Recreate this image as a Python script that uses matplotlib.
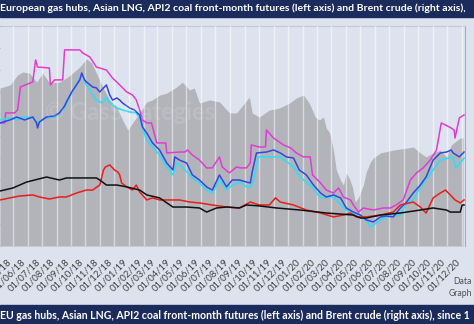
import pandas as pd
import matplotlib.pyplot as plt
import matplotlib.dates as mdates
from matplotlib.patches import Rectangle

plt.rcParams['font.family'] = ['Lato', 'DejaVu Sans']

# Brent crude front-month, $/bbl (right axis)
brent_dates = ["2018-04-04", "2018-04-25", "2018-05-11", "2018-05-22", "2018-06-05", "2018-06-20",
               "2018-07-03", "2018-07-17", "2018-08-07", "2018-08-22", "2018-09-04", "2018-09-19",
               "2018-10-03", "2018-10-14", "2018-10-24", "2018-11-06", "2018-11-21", "2018-12-06",
               "2018-12-18", "2018-12-29", "2019-01-08", "2019-01-23", "2019-02-07", "2019-02-19",
               "2019-03-06", "2019-03-21", "2019-04-11", "2019-04-23", "2019-05-08", "2019-05-18",
               "2019-05-29", "2019-06-19", "2019-07-10", "2019-07-31", "2019-08-15", "2019-09-11",
               "2019-09-17", "2019-10-02", "2019-10-23", "2019-11-13", "2019-12-05", "2019-12-19",
               "2020-01-03", "2020-01-15", "2020-01-28", "2020-02-05", "2020-02-14", "2020-02-20",
               "2020-02-27", "2020-03-06", "2020-03-12", "2020-03-21", "2020-03-27", "2020-04-02",
               "2020-04-08", "2020-04-15", "2020-04-21", "2020-04-28", "2020-05-02", "2020-05-08",
               "2020-05-14", "2020-05-23", "2020-05-29", "2020-06-13", "2020-07-10", "2020-08-07",
               "2020-08-21", "2020-09-05", "2020-09-17", "2020-10-02", "2020-10-17", "2020-10-30",
               "2020-11-09", "2020-11-17", "2020-11-28", "2020-12-04"]
brent = [71.8, 73.2, 77.7, 79.1, 78.6, 74.5,
         78.6, 74.1, 74.5, 76.4, 78.6, 81.4,
         85.0, 83.2, 78.6, 72.3, 66.4, 63.2,
         57.3, 52.7, 55.9, 60.5, 65.5, 66.4,
         68.6, 69.5, 72.3, 74.5, 70.9, 71.8,
         65.0, 66.4, 65.5, 60.5, 60.5, 67.7,
         60.5, 58.6, 61.8, 62.7, 65.0, 67.3,
         68.6, 65.0, 58.6, 57.3, 58.6, 53.6,
         51.4, 43.6, 34.5, 30.0, 27.7, 33.2,
         30.9, 26.8, 20.0, 22.3, 24.5, 27.7,
         33.6, 38.2, 40.0, 42.3, 43.6, 44.5,
         45.0, 42.3, 40.5, 42.3, 43.6, 40.5,
         45.9, 47.3, 49.1, 49.1]

# Asian LNG (JKM), $/MMBtu (left axis)
jkm_dates = ["2018-04-04", "2018-04-14", "2018-04-16", "2018-05-05", "2018-05-11", "2018-05-17",
             "2018-06-12", "2018-06-18", "2018-06-22", "2018-07-17", "2018-07-19", "2018-07-28",
             "2018-08-14", "2018-08-18", "2018-09-19", "2018-09-25", "2018-10-10", "2018-10-24",
             "2018-11-14", "2018-11-27", "2018-12-12", "2018-12-27", "2019-01-08", "2019-01-16",
             "2019-01-23", "2019-01-29", "2019-02-07", "2019-02-17", "2019-02-28", "2019-03-19",
             "2019-03-21", "2019-04-17", "2019-04-28", "2019-05-04", "2019-05-14", "2019-05-29",
             "2019-06-13", "2019-06-25", "2019-07-10", "2019-07-16", "2019-07-31", "2019-08-15",
             "2019-08-23", "2019-09-05", "2019-09-13", "2019-09-15", "2019-10-02", "2019-10-15",
             "2019-10-17", "2019-11-01", "2019-11-22", "2019-12-07", "2019-12-19", "2020-01-03",
             "2020-01-17", "2020-01-22", "2020-02-08", "2020-02-20", "2020-03-06", "2020-03-17",
             "2020-03-27", "2020-04-11", "2020-04-17", "2020-04-28", "2020-05-08", "2020-05-29",
             "2020-06-19", "2020-07-04", "2020-07-16", "2020-07-31", "2020-08-15", "2020-08-28",
             "2020-09-11", "2020-09-26", "2020-10-09", "2020-10-19", "2020-10-28", "2020-11-09",
             "2020-11-15", "2020-11-17", "2020-11-26", "2020-12-06"]
jkm = [7.83, 7.83, 8.47, 8.47, 8.66, 10.12,
       10.44, 11.84, 11.39, 11.33, 10.25, 10.57,
       10.57, 12.48, 12.48, 12.29, 12.03, 11.39,
       11.20, 10.69, 10.25, 9.80, 9.61, 9.29,
       8.66, 8.02, 7.83, 7.83, 6.56, 6.56,
       5.92, 5.98, 5.98, 6.11, 5.79, 5.47,
       4.97, 4.97, 5.67, 5.03, 4.65, 5.03,
       4.97, 4.97, 5.28, 6.43, 6.30, 6.30,
       7.38, 6.87, 6.43, 6.24, 5.92, 5.67,
       5.67, 4.52, 4.01, 3.56, 3.37, 3.69,
       3.12, 2.93, 2.61, 2.16, 2.42, 2.29,
       2.42, 2.42, 2.61, 2.93, 4.20, 4.65,
       4.97, 5.47, 6.11, 7.83, 7.70, 7.51,
       7.38, 6.87, 8.15, 8.34]

# TTF front-month, $/MMBtu
ttf_dates = ["2018-04-04", "2018-04-25", "2018-05-09", "2018-05-26", "2018-06-12", "2018-06-20",
             "2018-06-22", "2018-06-26", "2018-07-11", "2018-07-28", "2018-08-07", "2018-08-18",
             "2018-08-22", "2018-09-02", "2018-09-12", "2018-09-19", "2018-09-23", "2018-09-29",
             "2018-10-03", "2018-10-16", "2018-10-24", "2018-10-31", "2018-11-08", "2018-11-14",
             "2018-11-21", "2018-11-27", "2018-12-06", "2018-12-12", "2018-12-18", "2018-12-27",
             "2019-01-02", "2019-01-12", "2019-01-16", "2019-01-23", "2019-01-29", "2019-02-07",
             "2019-02-19", "2019-03-06", "2019-03-21", "2019-04-03", "2019-04-07", "2019-04-17",
             "2019-05-02", "2019-05-14", "2019-05-29", "2019-06-13", "2019-06-25", "2019-07-10",
             "2019-07-25", "2019-08-06", "2019-08-21", "2019-09-05", "2019-09-13", "2019-09-17",
             "2019-09-26", "2019-10-17", "2019-11-01", "2019-11-15", "2019-11-28", "2019-12-13",
             "2019-12-25", "2020-01-09", "2020-01-24", "2020-02-08", "2020-02-20", "2020-03-06",
             "2020-03-21", "2020-04-02", "2020-04-17", "2020-05-02", "2020-05-14", "2020-05-29",
             "2020-06-13", "2020-06-25", "2020-07-10", "2020-07-25", "2020-08-07", "2020-08-21",
             "2020-09-05", "2020-09-17", "2020-10-02", "2020-10-17", "2020-10-30", "2020-11-09",
             "2020-11-13", "2020-11-26", "2020-12-06"]
ttf = [7.83, 8.02, 8.21, 8.02, 8.21, 7.83,
       7.51, 7.89, 8.21, 8.28, 8.47, 8.91,
       9.17, 9.80, 10.25, 10.57, 11.01, 10.57,
       10.44, 10.12, 10.06, 9.80, 10.06, 10.25,
       9.61, 9.29, 9.42, 9.29, 9.10, 8.91,
       8.78, 8.66, 8.53, 8.34, 7.57, 7.19,
       6.56, 6.11, 5.28, 4.84, 5.67, 5.47,
       5.28, 4.52, 4.20, 3.76, 3.56, 4.52,
       3.76, 4.20, 4.20, 4.07, 4.01, 4.71,
       5.92, 5.98, 6.11, 5.92, 5.67, 5.60,
       4.84, 4.52, 3.88, 3.37, 3.12, 3.25,
       3.06, 2.42, 2.16, 1.97, 1.66, 1.53,
       1.85, 1.91, 1.85, 2.42, 2.80, 3.37,
       3.88, 4.39, 5.47, 5.92, 5.98, 6.11,
       5.92, 5.67, 5.98]

# NBP front-month, $/MMBtu
nbp_dates = ["2018-04-04", "2018-04-25", "2018-05-09", "2018-05-26", "2018-06-12", "2018-06-22",
             "2018-07-07", "2018-07-28", "2018-08-07", "2018-08-18", "2018-08-28", "2018-09-08",
             "2018-09-19", "2018-09-25", "2018-10-03", "2018-10-16", "2018-10-24", "2018-11-06",
             "2018-11-14", "2018-11-21", "2018-12-06", "2018-12-18", "2019-01-02", "2019-01-16",
             "2019-01-23", "2019-01-29", "2019-02-07", "2019-02-19", "2019-03-06", "2019-03-21",
             "2019-04-03", "2019-04-11", "2019-04-23", "2019-05-14", "2019-05-29", "2019-06-13",
             "2019-06-25", "2019-07-10", "2019-07-25", "2019-08-06", "2019-08-23", "2019-09-05",
             "2019-09-13", "2019-09-19", "2019-09-30", "2019-10-17", "2019-11-15", "2019-12-13",
             "2019-12-27", "2020-01-23", "2020-02-08", "2020-03-06", "2020-04-02", "2020-04-21",
             "2020-05-14", "2020-05-23", "2020-06-04", "2020-06-25", "2020-07-25", "2020-08-07",
             "2020-08-21", "2020-09-05", "2020-10-02", "2020-10-17", "2020-11-13", "2020-11-19",
             "2020-11-28", "2020-12-06"]
nbp = [8.02, 8.15, 8.02, 8.21, 8.15, 7.83,
       8.15, 8.21, 8.47, 8.78, 9.48, 10.06,
       10.69, 10.88, 10.25, 9.61, 9.29, 9.10,
       9.48, 9.10, 8.78, 8.66, 8.53, 8.47,
       8.15, 7.51, 6.75, 6.30, 5.79, 5.03,
       4.52, 5.28, 5.03, 4.33, 4.01, 3.56,
       3.37, 4.20, 3.56, 3.88, 4.07, 3.76,
       3.76, 4.07, 5.67, 5.67, 5.67, 5.03,
       4.39, 3.69, 3.06, 3.12, 2.29, 1.97,
       1.66, 1.21, 1.46, 1.85, 1.97, 2.74,
       2.93, 3.76, 4.84, 5.47, 5.67, 4.97,
       5.28, 5.60]

# Henry Hub front-month, $/MMBtu
hh_dates = ["2018-04-04", "2018-04-25", "2018-05-15", "2018-06-12", "2018-06-26", "2018-07-17",
            "2018-08-07", "2018-08-22", "2018-09-12", "2018-10-03", "2018-10-16", "2018-10-31",
            "2018-11-08", "2018-11-12", "2018-11-21", "2018-11-27", "2018-12-01", "2018-12-08",
            "2018-12-12", "2018-12-16", "2018-12-27", "2019-01-08", "2019-01-16", "2019-01-23",
            "2019-02-07", "2019-02-19", "2019-03-06", "2019-03-21", "2019-04-17", "2019-05-08",
            "2019-05-29", "2019-06-25", "2019-07-25", "2019-08-21", "2019-09-13", "2019-10-02",
            "2019-10-23", "2019-11-05", "2019-11-15", "2019-12-13", "2020-01-09", "2020-02-08",
            "2020-03-06", "2020-03-27", "2020-04-11", "2020-04-23", "2020-05-14", "2020-06-13",
            "2020-07-10", "2020-07-25", "2020-08-21", "2020-09-05", "2020-09-17", "2020-10-02",
            "2020-10-17", "2020-10-28", "2020-11-07", "2020-11-17", "2020-11-28", "2020-12-06"]
hh = [2.93, 3.06, 3.18, 3.25, 3.12, 2.99,
      3.12, 3.12, 3.37, 3.56, 3.56, 3.88,
      4.84, 5.03, 5.16, 4.97, 4.84, 4.71,
      4.52, 4.01, 3.76, 3.56, 3.88, 3.44,
      2.93, 3.06, 2.93, 2.93, 2.93, 2.80,
      2.74, 2.61, 2.48, 2.42, 2.80, 2.61,
      2.61, 3.06, 2.80, 2.61, 2.29, 2.10,
      1.85, 1.97, 2.10, 1.85, 1.85, 1.97,
      2.16, 2.61, 2.80, 2.48, 2.10, 3.06,
      3.37, 3.56, 3.25, 2.93, 2.74, 2.93]

# API2 coal front-month, $/MMBtu
coal_dates = ["2018-04-04", "2018-05-01", "2018-05-30", "2018-07-11", "2018-08-07", "2018-08-22",
              "2018-10-24", "2018-10-31", "2018-11-14", "2018-12-06", "2018-12-27", "2019-01-23",
              "2019-02-07", "2019-03-06", "2019-04-03", "2019-05-02", "2019-05-29", "2019-06-13",
              "2019-07-04", "2019-07-25", "2019-08-21", "2019-09-05", "2019-10-02", "2019-11-07",
              "2019-12-27", "2020-02-20", "2020-04-17", "2020-05-02", "2020-05-14", "2020-06-13",
              "2020-07-25", "2020-09-05", "2020-10-02", "2020-10-30", "2020-11-07", "2020-11-28",
              "2020-12-02", "2020-12-06"]
coal = [3.50, 3.69, 4.07, 4.39, 4.20, 4.33,
        4.33, 4.20, 3.88, 3.88, 3.76, 3.56,
        3.25, 3.06, 2.48, 2.48, 2.42, 2.16,
        2.42, 2.48, 2.42, 2.61, 2.55, 2.42,
        2.29, 2.10, 1.97, 1.78, 1.78, 1.97,
        2.10, 2.29, 2.42, 2.29, 2.16, 2.16,
        2.61, 2.61]

W, H = 474, 324
BG = "#dde3ee"
NAVY = "#1b2c5c"

fig = plt.figure(figsize=(W / 100, H / 100), dpi=100)
fig.patch.set_facecolor(BG)

ax = fig.add_axes([0, 78 / H, 465 / W, 220 / H])
ax.set_facecolor(BG)

# Brent as grey area on the right-hand scale
ax.fill_between(pd.to_datetime(brent_dates), brent, 0, color="#b2b4ba", lw=0, zorder=1)
ax.set_ylim(0, 100)
ax.set_xlim(pd.Timestamp("2018-04-04"), pd.Timestamp("2020-12-08"))
ax.yaxis.tick_right()
ax.set_yticks(range(0, 101, 10))
ax.tick_params(axis="y", length=3, color="#a4acbc", labelright=False)
ax.xaxis.set_major_locator(mdates.MonthLocator())
ax.xaxis.set_major_formatter(mdates.DateFormatter("%d/%m/%y"))
ax.tick_params(axis="x", length=0, pad=8, labelsize=6.8, labelcolor="#404040")
plt.setp(ax.get_xticklabels(), rotation=45, ha="right")
ax.set_axisbelow(False)
ax.grid(axis="x", color="white", alpha=0.5, lw=1)
for side in ["left", "bottom"]:
    ax.spines[side].set_visible(False)
ax.spines["right"].set_color("#a4acbc")
ax.spines["top"].set_color("#c2c9d6")

# gas and coal on the left-hand scale
ax2 = ax.twinx()
ax2.set_ylim(0, 14)
ax2.set_yticks([])
for side in ax2.spines:
    ax2.spines[side].set_visible(False)
ax2.plot(pd.to_datetime(jkm_dates), jkm, color="#e03cd2", lw=1.1)
ax2.plot(pd.to_datetime(nbp_dates), nbp, color="#33dcf2", lw=1.2)
ax2.plot(pd.to_datetime(ttf_dates), ttf, color="#3346e0", lw=1.1)
ax2.plot(pd.to_datetime(hh_dates), hh, color="#ea1c1c", lw=1.1)
ax2.plot(pd.to_datetime(coal_dates), coal, color="#111111", lw=1.1)

# faint watermark
fig.text(45 / W, 1 - 112 / H, "\u00a9 GasStrategies", color="white", alpha=0.12,
         fontsize=17, fontweight="bold", va="center")

# title bars
fig.add_artist(Rectangle((0, 1 - 17 / H), 1, 17 / H, transform=fig.transFigure,
                         color=NAVY, zorder=5))
fig.text(0.5 / W, 1 - 8.5 / H,
         "European gas hubs, Asian LNG, API2 coal front-month futures (left axis) "
         "and Brent crude (right axis),",
         color="white", fontsize=7.55, fontweight="bold", va="center", zorder=6)
fig.add_artist(Rectangle((0, 0), 1, 19 / H, transform=fig.transFigure,
                         color=NAVY, zorder=5))
fig.text(0.5 / W, 9 / H,
         "EU gas hubs, Asian LNG, API2 coal front-month futures (left axis) "
         "and Brent crude (right axis), since 1",
         color="white", fontsize=7.6, fontweight="bold", va="center", zorder=6)

fig.text(472 / W, 1 - 281 / H, "Data", color="#505050", fontsize=6.2, va="center", ha="right")
fig.text(472 / W, 1 - 293 / H, "Graph", color="#505050", fontsize=6.2, va="center", ha="right")

fig.savefig("out.png", dpi=100, facecolor=BG)
